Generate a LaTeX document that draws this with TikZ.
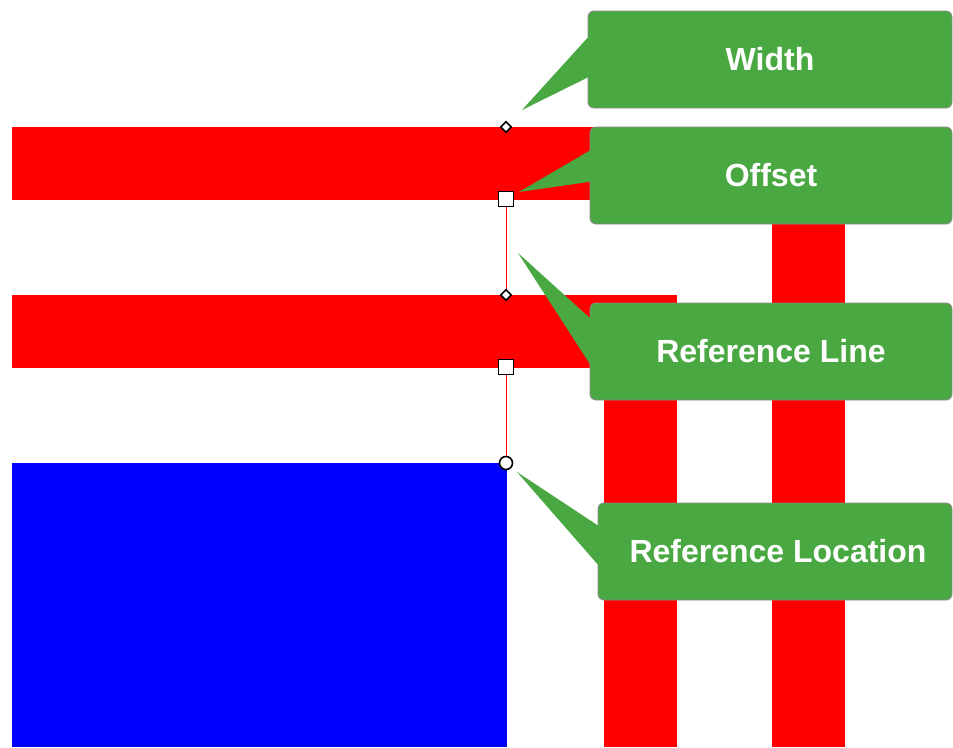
\documentclass[tikz,border=0pt]{standalone}
\usepackage{fontspec}
\setmainfont{Liberation Sans}
\usetikzlibrary{shapes.geometric,calc}
\definecolor{callgreen}{RGB}{74,168,66}
\definecolor{callgray}{RGB}{140,140,140}
\definecolor{barred}{RGB}{255,0,0}
\definecolor{blockblue}{RGB}{0,0,255}
\tikzset{
  callbox/.style={rectangle, rounded corners=6pt, fill=callgreen, draw=callgray, line width=0.9pt,
    text=white, font=\fontsize{32}{37}\selectfont\bfseries, inner sep=0pt},
  wedge/.style={fill=callgreen},
  markdiamond/.style={diamond, draw=black, fill=white, line width=1.6pt, minimum size=11pt, inner sep=0pt},
  marksquare/.style={rectangle, draw=black, fill=white, line width=1.8pt, minimum size=15pt, inner sep=0pt},
  markcircle/.style={circle, draw=black, fill=white, line width=1.6pt, minimum size=13pt, inner sep=0pt},
  refline/.style={draw=barred, line width=1pt}
}
\begin{document}
\begin{tikzpicture}[x=1pt,y=-1pt]
\useasboundingbox (0,0) rectangle (953,747);
% bars
\fill[barred] (12,127) rectangle (845,200);
\fill[barred] (772,127) rectangle (845,747);
\fill[barred] (12,295) rectangle (677,368);
\fill[barred] (604,295) rectangle (677,747);
\fill[blockblue] (12,463) rectangle (507,747);
% markers
\node[markdiamond] (m1) at (506,127) {};
\node[marksquare] (m2) at (506,199) {};
\node[markdiamond] (m3) at (506,295) {};
\node[marksquare] (m4) at (506,367) {};
\node[markcircle] (m5) at (506,463) {};
\draw[refline] (m2.south) -- (m3.north);
\draw[refline] (m3.south) -- (m4.north);
\draw[refline] (m4.south) -- (m5.north);
% callouts
\node[callbox, minimum width=364pt, minimum height=97pt] (callW) at (770,59.5) {Width};
\node[callbox, minimum width=362pt, minimum height=97pt] (callO) at (771,175.5) {Offset};
\node[callbox, minimum width=362pt, minimum height=97pt] (callRL) at (771,351.5) {Reference Line};
\node[callbox, minimum width=354pt, minimum height=97pt] (callRLoc) at (775,551.5) {\hspace*{6pt}Reference Location};
\coordinate (tW) at (522,110);
\coordinate (tO) at (519,192);
\coordinate (tRL) at (518,253);
\coordinate (tRLoc) at (517,472);
\fill[wedge] (tW) -- ($(callW.north west)+(2,25)$) -- ($(callW.north west)+(2,66)$) -- cycle;
\fill[wedge] (tO) -- ($(callO.north west)+(2,23)$) -- ($(callO.north west)+(2,55)$) -- cycle;
\fill[wedge] (tRL) -- ($(callRL.north west)+(2,17)$) -- ($(callRL.north west)+(2,64)$) -- cycle;
\fill[wedge] (tRLoc) -- ($(callRLoc.north west)+(2,24)$) -- ($(callRLoc.north west)+(2,64)$) -- cycle;
\end{tikzpicture}
\end{document}
